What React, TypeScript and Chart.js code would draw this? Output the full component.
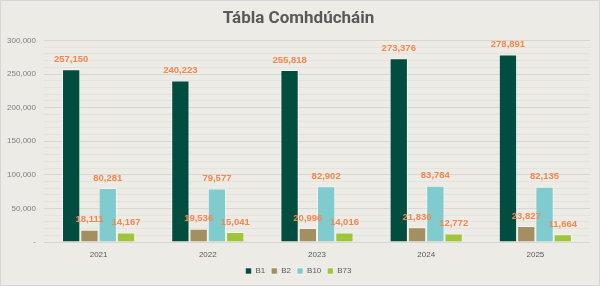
import React, { useEffect, useRef } from "react";
import { Chart, registerables } from "chart.js";

Chart.register(...registerables);

const years = ["2021", "2022", "2023", "2024", "2025"];
const b1 = [257150, 240223, 255818, 273376, 278891];
const b2 = [18111, 19536, 20996, 21830, 23827];
const b10 = [80281, 79577, 82902, 83784, 82135];
const b73 = [14167, 15041, 14016, 12772, 11664];

const seriesNames = ["B1", "B2", "B10", "B73"];
const seriesColors = ["#014D3F", "#A38F5F", "#7FCBCE", "#9DC63B"];

const FONT = "'Liberation Sans', Arial, sans-serif";

const fmt = (v: number) => (v === 0 ? "-" : v.toLocaleString("en-US"));

// Draws each bar's value just above its top.
const valueLabels = {
  id: "valueLabels",
  afterDatasetsDraw(chart: any) {
    const ctx = chart.ctx;
    ctx.save();
    ctx.font = `bold 9.5px ${FONT}`;
    ctx.fillStyle = "#F4874E";
    ctx.textAlign = "center";
    ctx.textBaseline = "middle";
    chart.data.datasets.forEach((ds: any, i: number) => {
      const meta = chart.getDatasetMeta(i);
      meta.data.forEach((el: any, j: number) => {
        ctx.fillText(fmt(ds.data[j]), el.x, el.y - 10);
      });
    });
    ctx.restore();
  },
};

export default function App() {
  const ref = useRef<HTMLCanvasElement | null>(null);

  useEffect(() => {
    if (!ref.current) return;
    const data = [b1, b2, b10, b73];
    const chart = new Chart(ref.current, {
      type: "bar",
      data: {
        labels: years,
        datasets: data.map((d, i) => ({
          label: seriesNames[i],
          data: d,
          backgroundColor: seriesColors[i],
          borderColor: "rgba(255,255,255,0.5)",
          borderWidth: 1,
          categoryPercentage: 0.67,
          barPercentage: 1,
        })),
      },
      options: {
        responsive: false,
        animation: false,
        layout: { padding: { left: 6, right: 9, top: 5, bottom: 0 } },
        plugins: {
          title: {
            display: true,
            text: "Tábla Comhdúcháin",
            color: "#595959",
            font: { size: 17, weight: "bold", family: "Roboto, 'Liberation Sans', sans-serif", lineHeight: 1.2 },
            padding: { top: 3, bottom: 11 },
          },
          legend: {
            position: "bottom",
            labels: {
              boxWidth: 6,
              boxHeight: 6,
              padding: 6,
              color: "#595959",
              font: { size: 8, family: FONT },
            },
          },
          tooltip: { enabled: false },
        },
        scales: {
          x: {
            grid: { display: false, drawTicks: false },
            border: { display: false },
            ticks: {
              padding: 8,
              color: "#595959",
              font: { size: 8, family: FONT },
            },
            afterFit: (scale: any) => {
              scale.height = 19;
            },
          },
          y: {
            min: 0,
            max: 300000,
            border: { display: false },
            grid: {
              color: (c: any) =>
                c.tick && c.tick.value % 50000 === 0 ? "#D8D6CF" : "#E5E3DC",
              drawTicks: false,
            },
            ticks: {
              stepSize: 10000,
              autoSkip: false,
              padding: 8,
              color: "#7F7F7F",
              font: { size: 8, family: FONT },
              callback: (v: any) => (Number(v) % 50000 === 0 ? fmt(Number(v)) : ""),
            },
            afterFit: (scale: any) => {
              scale.width = 37;
            },
          },
        },
      },
      plugins: [valueLabels],
    });
    return () => chart.destroy();
  }, []);

  return (
    <div
      style={{
        position: "fixed",
        left: 0,
        top: 0,
        width: 600,
        height: 286,
        boxSizing: "border-box",
        border: "1px solid #D6D6D6",
        background: "#EDEBE5",
      }}
    >
      <canvas ref={ref} width={598} height={284} style={{ display: "block" }} />
    </div>
  );
}
